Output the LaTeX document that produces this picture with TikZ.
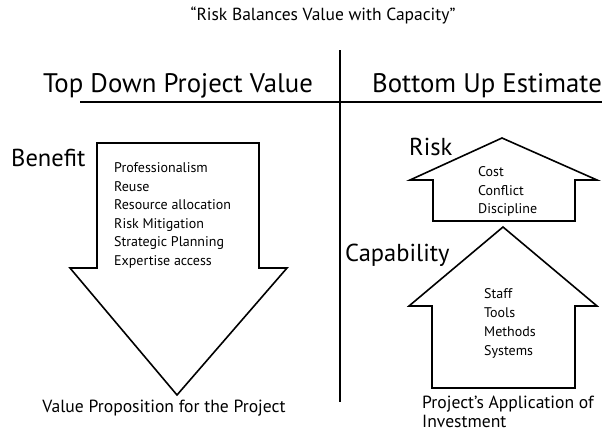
\documentclass[tikz,border=0pt]{standalone}
\usepackage{fontspec}
\setmainfont{PT Sans}
\begin{document}
\begin{tikzpicture}[x=1pt, y=-1pt, line join=miter]
  \tikzset{
    bigarrow/.style={draw, line width=1.6pt, fill=white},
    divider/.style={line width=1.4pt},
    heading/.style={font=\fontsize{26.8}{30}\selectfont, inner sep=0},
    tag/.style={font=\fontsize{24.5}{28}\selectfont, inner sep=0, anchor=west},
    item/.style={font=\fontsize{14}{16}\selectfont, inner sep=0, anchor=west, text height=10pt, text depth=3pt},
    foot/.style={font=\fontsize{17.6}{19}\selectfont, inner sep=0},
  }
  \useasboundingbox (0,0) rectangle (602,437);

  \node[font=\fontsize{17.5}{20}\selectfont] (title) at (323,15) {“Risk Balances Value with Capacity”};

  % dividers
  \coordinate (vtop) at (340,50);
  \coordinate (vbot) at (340,402);
  \coordinate (hleft) at (80,102);
  \coordinate (hright) at (602,102);
  \draw[divider] (vtop) -- (vbot);
  \draw[divider] (hleft) -- (hright);
  \node[heading] (topdown) at (178,86) {Top Down Project Value};
  \node[heading] (bottomup) at (487,86) {Bottom Up Estimate};

  \begin{scope}
    \draw[bigarrow] (97,143) -- (259,143) -- (259,268) -- (287,268) -- (177,395)
      -- (70,268) -- (97,268) -- cycle;
    \node[tag] (benefit) at (11,158) {Benefit};
    \foreach \t [count=\i] in {Professionalism, Reuse, Resource allocation,
        Risk Mitigation, Strategic Planning, Expertise access}
      \node[item] (ben\i) at (114,{169+18.6*(\i-1)}) {\t};
    \node[foot] (valueprop) at (164,408) {Value Proposition for the Project};
  \end{scope}

  \begin{scope}
    \draw[bigarrow] (433,221) -- (433,180) -- (410,180) -- (502,138) -- (597,180)
      -- (575,180) -- (575,221) -- cycle;
    \node[tag] (risk) at (409,147) {Risk};
    \foreach \t [count=\i] in {Cost, Conflict, Discipline}
      \node[item] (risk\i) at (478,{173+18.7*(\i-1)}) {\t};

    \draw[bigarrow] (432,388) -- (432,306) -- (409,306) -- (503,227) -- (597,306)
      -- (575,306) -- (575,388) -- cycle;
    \node[tag] (capability) at (345,255) {Capability};
    \foreach \t [count=\i] in {Staff, Tools, Methods, Systems}
      \node[item] (cap\i) at (484,{295+19*(\i-1)}) {\t};
    \node[foot, anchor=north west, align=left] (investment) at (422,396)
      {Project’s Application of\\Investment};
  \end{scope}
\end{tikzpicture}
\end{document}
